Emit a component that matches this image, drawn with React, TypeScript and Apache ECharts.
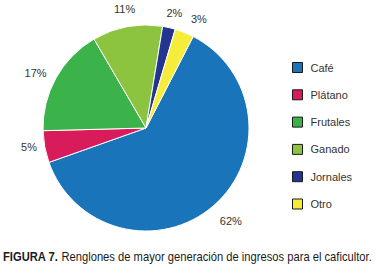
import React, { useEffect, useRef } from "react";
import * as echarts from "echarts";

const categories = ["Café", "Plátano", "Frutales", "Ganado", "Jornales", "Otro"];
const values = [62, 5, 17, 11, 2, 3];
const colors = ["#1a74ba", "#d81b5b", "#3bb34a", "#8cc43f", "#23358f", "#f6ec3a"];
const captionBold = "FIGURA 7.";
const captionText = " Renglones de mayor generación de ingresos para el caficultor.";

const FONT = "'Liberation Sans', Arial, sans-serif";

// small per-label nudges [dx, dy]
const labelOffsets: number[][] = [
  [4, 0],
  [4, -3],
  [-3, 5],
  [1, 2],
  [1, 5],
  [7, 5],
];

function measure(text: string, font: string): number {
  const c = document.createElement("canvas");
  const ctx = c.getContext("2d");
  if (!ctx) return text.length * 6;
  ctx.font = font;
  return ctx.measureText(text).width;
}

export default function App() {
  const ref = useRef<HTMLDivElement>(null);
  useEffect(() => {
    if (!ref.current) return;
    const chart = echarts.init(ref.current, undefined, { renderer: "svg" });
    const capSize = 13;
    const wB = measure(captionBold, `bold ${capSize}px 'Liberation Sans'`);
    const wR = measure(captionText, `${capSize}px 'Liberation Sans'`);
    const capScale = 369 / (wB + wR);
    const pieData = categories.map((c, i) => ({ name: c, value: values[i] }));
    const rich: Record<string, any> = {};
    labelOffsets.forEach(([dx, dy], i) => {
      rich["n" + i] = {
        fontFamily: FONT,
        fontSize: 11,
        color: "#333",
        padding: [dy > 0 ? 2 * dy : 0, dx < 0 ? -2 * dx : 0, dy < 0 ? -2 * dy : 0, dx > 0 ? 2 * dx : 0],
      };
    });
    chart.setOption({
      animation: false,
      backgroundColor: "#ffffff",
      color: colors,
      legend: {
        orient: "vertical",
        left: 292,
        top: 62,
        padding: 0,
        itemWidth: 10,
        itemHeight: 10,
        itemGap: 16.3,
        icon: "rect",
        data: categories,
        itemStyle: { borderColor: "#1a1a1a", borderWidth: 1 },
        textStyle: { fontFamily: FONT, fontSize: 11, color: "#333", padding: [0, 0, 0, 3] },
      },
      graphic: [
        {
          type: "text",
          x: 3,
          y: 257,
          scaleX: capScale,
          style: {
            text: `{b|${captionBold}}{r|${captionText}}`,
            verticalAlign: "middle",
            rich: {
              b: { fontFamily: FONT, fontSize: capSize, fontWeight: "bold", fill: "#1a1a1a" },
              r: { fontFamily: FONT, fontSize: capSize, fontWeight: "normal", fill: "#1a1a1a" },
            },
          },
        },
      ],
      series: [
        {
          type: "pie",
          center: [146, 128],
          radius: [0, 103],
          startAngle: 62.7,
          clockwise: true,
          data: pieData,
          itemStyle: { borderColor: "#ffffff", borderWidth: 1 },
          label: { show: false },
          labelLine: { show: false },
        },
        {
          type: "pie",
          center: [146, 128],
          radius: [110, 130],
          startAngle: 62.7,
          clockwise: true,
          silent: true,
          legendHoverLink: false,
          data: pieData,
          itemStyle: { color: "rgba(0,0,0,0)", borderWidth: 0 },
          label: {
            show: true,
            position: "inside",
            formatter: (p: any) => `{n${p.dataIndex}|${p.value}%}`,
            rich,
            fontFamily: FONT,
            fontSize: 11,
            color: "#333",
            textBorderWidth: 0,
          },
          labelLine: { show: false },
        },
      ],
    });
    return () => chart.dispose();
  }, []);
  return (
    <div
      ref={ref}
      style={{ position: "fixed", left: 0, top: 0, width: 383, height: 266 }}
    />
  );
}
